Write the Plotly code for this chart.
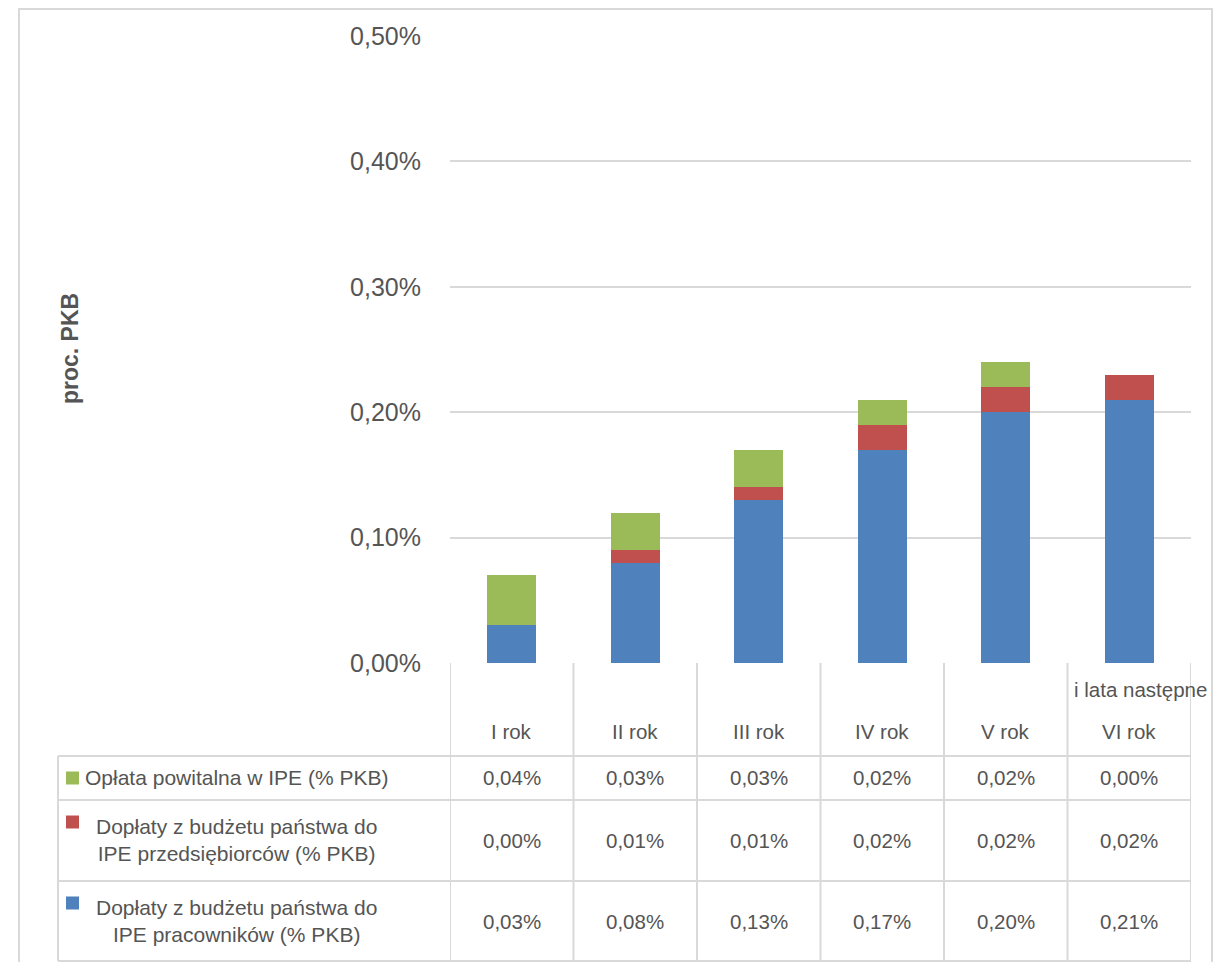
import plotly.graph_objects as go

categories = ["I rok", "II rok", "III rok", "IV rok", "V rok", "VI rok"]
extra_header = "i lata następne"
series_names = [
    "Opłata powitalna w IPE (% PKB)",
    "Dopłaty z budżetu państwa do<br>IPE przedsiębiorców (% PKB)",
    "Dopłaty z budżetu państwa do<br>IPE pracowników (% PKB)",
]
oplata = [0.04, 0.03, 0.03, 0.02, 0.02, 0.00]
doplaty_przeds = [0.00, 0.01, 0.01, 0.02, 0.02, 0.02]
doplaty_prac = [0.03, 0.08, 0.13, 0.17, 0.20, 0.21]
colors = ["#9BBB59", "#C0504D", "#4F81BD"]
y_ticks = [0.0, 0.1, 0.2, 0.3, 0.4, 0.5]
y_title = "proc. PKB"

# page has an 8px body margin; reference-pixel positions are converted below
W, H = 1206, 954
L, R, T, B = 450, 1191, 35, 663   # plot area in reference (page) pixels
OFF = 8
FONT = "Liberation Sans, Arial, sans-serif"
TXT = "#555555"
GRID = "#D9D9D9"


def px(x):
    return (x - L) / (R - L)


def py(y):
    return (B - y) / (B - T)


def pct(v):
    return f"{v:.2f}".replace(".", ",") + "%"


fig = go.Figure()
# stacked bottom -> top: pracownicy, przedsiebiorcy, oplata
for vals, name, col in [
    (doplaty_prac, series_names[2], colors[2]),
    (doplaty_przeds, series_names[1], colors[1]),
    (oplata, series_names[0], colors[0]),
]:
    fig.add_trace(go.Bar(x=categories, y=vals, name=name, marker_color=col,
                         marker_line_width=0, width=0.4, showlegend=False))

shapes = []
annotations = []

# outer chart border (kept inside the drawable figure area)
shapes.append(dict(type="path", xref="paper", yref="paper",
                   path=f"M {px(19)} {py(980)} L {px(19)} {py(9)} L {px(1212)} {py(9)} L {px(1212)} {py(980)}",
                   line=dict(color=GRID, width=2)))

# table horizontal lines
row_lines = [756, 800, 881, 961]
for yl in row_lines:
    shapes.append(dict(type="line", xref="paper", yref="paper",
                       x0=px(58), x1=1, y0=py(yl), y1=py(yl),
                       line=dict(color=GRID, width=2)))
# left border of table
shapes.append(dict(type="line", xref="paper", yref="paper",
                   x0=px(58), x1=px(58), y0=py(756), y1=py(961),
                   line=dict(color=GRID, width=2)))
# category separators
for i in range(len(categories) + 1):
    shapes.append(dict(type="line", xref="x", yref="paper",
                       x0=i - 0.5, x1=i - 0.5, y0=0, y1=py(961),
                       line=dict(color=GRID, width=2)))

tfont = dict(size=20.5, color=TXT, family=FONT)

# header labels
for i, c in enumerate(categories):
    annotations.append(dict(x=i, y=py(731), xref="x", yref="paper", text=c,
                            xanchor="center", yanchor="middle", showarrow=False, font=tfont))
annotations.append(dict(x=len(categories) - 1, y=py(689), xref="x", yref="paper", text=extra_header,
                        xanchor="center", yanchor="middle", xshift=11, showarrow=False, font=tfont))

# table rows (top -> bottom: oplata, przedsiebiorcy, pracownicy)
rows = [(oplata, series_names[0], colors[0], 778, 778),
        (doplaty_przeds, series_names[1], colors[1], 840, 822),
        (doplaty_prac, series_names[2], colors[2], 921, 903)]
for vals, name, col, yc, ykey in rows:
    for i, v in enumerate(vals):
        annotations.append(dict(x=i, y=py(yc), xref="x", yref="paper", text=pct(v),
                                xanchor="center", yanchor="middle", showarrow=False, font=tfont))
    annotations.append(dict(x=px(236), y=py(yc), xref="paper", yref="paper", text=name,
                            xanchor="center", yanchor="middle", showarrow=False, align="center",
                            font=dict(size=21, color=TXT, family=FONT)))
    shapes.append(dict(type="rect", xref="paper", yref="paper",
                       x0=px(66), x1=px(79), y0=py(ykey - 6.5), y1=py(ykey + 6.5),
                       fillcolor=col, line=dict(width=0)))

# y axis title
annotations.append(dict(x=px(70), y=py(349), xref="paper", yref="paper", text=f"<b>{y_title}</b>",
                        xanchor="center", yanchor="middle",
                        textangle=-90, showarrow=False, font=dict(size=23, color=TXT, family=FONT)))

fig.update_layout(
    width=W, height=H,
    margin=dict(l=L - OFF, r=W - (R - OFF), t=T - OFF, b=H - (B - OFF), pad=0),
    barmode="stack",
    plot_bgcolor="white", paper_bgcolor="white",
    separators=", ",
    shapes=shapes, annotations=annotations,
    xaxis=dict(showticklabels=False, showgrid=False, zeroline=False, showline=False,
               ticks="", range=[-0.5, 5.5]),
    yaxis=dict(range=[0, 0.5008], tickvals=y_ticks, ticktext=[pct(v) for v in y_ticks],
               showgrid=True, gridcolor=GRID, gridwidth=2, zeroline=False,
               showline=False, ticks="", ticklabelstandoff=28,
               tickfont=dict(size=25, color=TXT, family=FONT)),
)

fig.write_html("out.html")
